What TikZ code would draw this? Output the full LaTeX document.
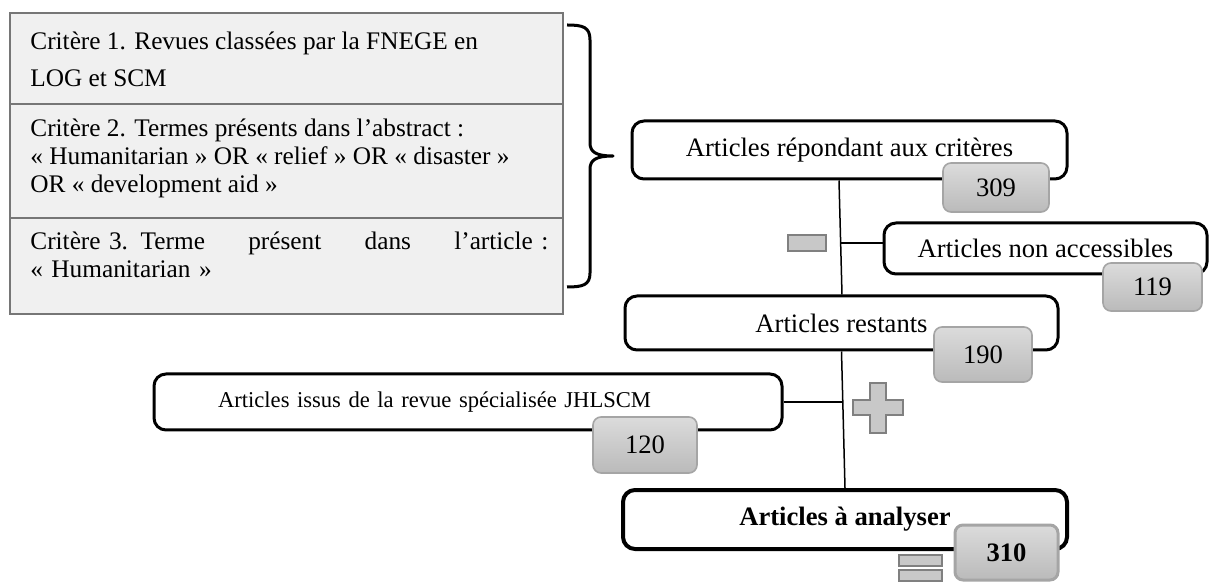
\documentclass[tikz,border=0pt]{standalone}
\usepackage{xcolor}
\usepackage{tikz}
\usepackage{fontspec}
\setmainfont{Liberation Serif}

\begin{document}
\begin{tikzpicture}[x=0.5pt,y=0.5pt,yscale=-1,xscale=1,
  rowbox/.style={draw={rgb, 255:red, 118; green, 118; blue, 118 }, line width=1pt, fill={rgb, 255:red, 240; green, 240; blue, 240 }},
  crittext/.style={anchor=north west, inner sep=0pt, align=left, font=\fontsize{12.65}{13.9}\selectfont},
  flowbox/.style={draw, line width=1.5pt, rounded corners=6pt, fill=white, inner sep=2pt, font=\fontsize{13.3}{15}\selectfont},
  numbox/.style={draw={rgb, 255:red, 165; green, 165; blue, 165 }, line width=0.8pt, rounded corners=4pt, top color=black!14, bottom color=black!27, inner sep=0pt, font=\fontsize{13.3}{15}\selectfont},
  opsign/.style={draw={rgb, 255:red, 128; green, 128; blue, 128 }, fill={rgb, 255:red, 200; green, 200; blue, 200 }, line width=0.6pt},
  link/.style={line width=0.75pt}]
%set diagram left start at 0, and has height of 582
\useasboundingbox (0,0) rectangle (1210,582);

%Shape: Rectangle [criteria table]
\draw[rowbox] (10,13) rectangle (563,104);
\draw[rowbox] (10,104) rectangle (563,218);
\draw[rowbox] (10,218) rectangle (563,314);

% Text Node
\node[crittext] (crit1) at (30,32) {Critère 1. Revues classées par la FNEGE en\\[4.6pt]LOG et SCM};
% Text Node
\node[crittext] (crit2) at (30,119) {Critère 2. Termes présents dans l’abstract :\\« Humanitarian » OR « relief » OR « disaster »\\OR « development aid »};
% Text Node
\node[crittext, text width=259pt] (crit3) at (30,232) {\hbox to 259pt{Critère 3. Terme\hfill présent\hfill dans\hfill l’article :}\\« Humanitarian »};

%Shape: Brace
\draw[line width=1.5pt, line join=round] (567,25) .. controls (583,25) and (590,27) .. (590,40) -- (590,143) .. controls (590,152) and (596,156) .. (613,156) .. controls (596,156) and (590,160) .. (590,169) -- (590,273) .. controls (590,285) and (583,287) .. (567,287);

%Shape: Boxes
\node[flowbox, minimum width=217.5pt, minimum height=29pt] (repond) at (849.5,150) {Articles répondant aux critères};
\node[flowbox, minimum width=161.5pt, minimum height=25.5pt] (nonacc) at (1045.5,248.5) {Articles non accessibles};
\node[flowbox, minimum width=216.5pt, minimum height=27pt] (restant) at (841.5,323) {Articles restants};
\node[flowbox, text width=250pt, inner xsep=32pt, align=left, minimum height=28pt, font=\fontsize{11.3}{13}\selectfont] (issus) at (468,402) {Articles issus de la revue spécialisée JHLSCM};
\node[flowbox, line width=2pt, minimum width=222pt, minimum height=29.5pt] (analyse) at (845,519.5) {\bfseries Articles à analyser};

%Straight Lines
\coordinate (moins) at (841,243);
\coordinate (ajout) at (843,402);
\draw[link] ([xshift=-5.25pt]repond.south) -- ([xshift=0.25pt]restant.north);
\draw[link] (moins) -- (moins -| nonacc.west);
\draw[link] (restant.south) -- (analyse.north);
\draw[link] (issus.east) -- (ajout);

%Shape: Counts
\node[numbox, minimum width=53pt, minimum height=24.5pt] (n309) at (996,187.5) {309};
\node[numbox, minimum width=49.5pt, minimum height=24pt] (n119) at (1152.5,287) {119};
\node[numbox, minimum width=49pt, minimum height=27.5pt] (n190) at (983,354.5) {190};
\node[numbox, minimum width=52pt, minimum height=28pt] (n120) at (645,445) {120};
\node[numbox, line width=1.5pt, minimum width=51.5pt, minimum height=27.5pt, font=\fontsize{13.3}{15}\selectfont\bfseries] (n310) at (1006.5,552.5) {310};

%Shape: Minus
\draw[opsign] (788,235) rectangle (826,251);
%Shape: Plus
\draw[opsign] (870,383) -- (886,383) -- (886,400) -- (903,400) -- (903,415) -- (886,415) -- (886,433) -- (870,433) -- (870,415) -- (853,415) -- (853,400) -- (870,400) -- cycle;
%Shape: Equals
\draw[opsign] (899,555) rectangle (942,566);
\draw[opsign] (899,570) rectangle (942,581);

\end{tikzpicture}
\end{document}
